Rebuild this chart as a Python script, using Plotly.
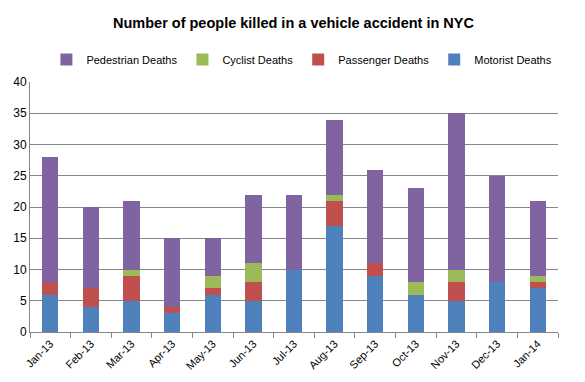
import plotly.graph_objects as go

months = ["Jan-13", "Feb-13", "Mar-13", "Apr-13", "May-13", "Jun-13", "Jul-13",
          "Aug-13", "Sep-13", "Oct-13", "Nov-13", "Dec-13", "Jan-14"]
motorist = [6, 4, 5, 3, 6, 5, 10, 17, 9, 6, 5, 8, 7]
passenger = [2, 3, 4, 1, 1, 3, 0, 4, 2, 0, 3, 0, 1]
cyclist = [0, 0, 1, 0, 2, 3, 0, 1, 0, 2, 2, 0, 1]
pedestrian = [20, 13, 11, 11, 6, 11, 12, 12, 15, 15, 25, 17, 12]

fig = go.Figure()
for name, vals, col in [("Motorist Deaths", motorist, "#4F81BD"),
                        ("Passenger Deaths", passenger, "#C0504D"),
                        ("Cyclist Deaths", cyclist, "#9BBB59"),
                        ("Pedestrian Deaths", pedestrian, "#8064A2")]:
    fig.add_trace(go.Bar(x=months, y=vals, name=name, marker=dict(color=col, line=dict(width=0)), width=0.4))

fig.update_layout(
    barmode="stack",
    width=585, height=382,
    margin=dict(l=22, r=35, t=74, b=58, autoexpand=False),
    paper_bgcolor="white", plot_bgcolor="white",
    font=dict(family="Liberation Sans, Arial, sans-serif", size=11, color="#000"),
    title=dict(text="<b>Number of people killed in a vehicle accident in NYC</b>",
               x=0.488, xanchor="center", y=0.96, yanchor="middle",
               font=dict(size=14.5)),
    legend=dict(orientation="h", traceorder="reversed", x=0.515, xanchor="center",
                yref="container", y=0.865, yanchor="middle", font=dict(size=11),
                itemwidth=30),
    showlegend=True,
)
fig.update_yaxes(range=[0, 40], dtick=5, showgrid=True, gridcolor="#868686", gridwidth=1,
                 showline=True, linecolor="#868686", ticks="", zeroline=False,
                 tickfont=dict(size=12), automargin=False)
fig.update_xaxes(showline=True, linecolor="#868686", ticks="outside", tickson="boundaries",
                 ticklen=5, tickcolor="#868686", tickangle=-45, tickfont=dict(size=11),
                 automargin=False)
fig.write_html("out.html")
